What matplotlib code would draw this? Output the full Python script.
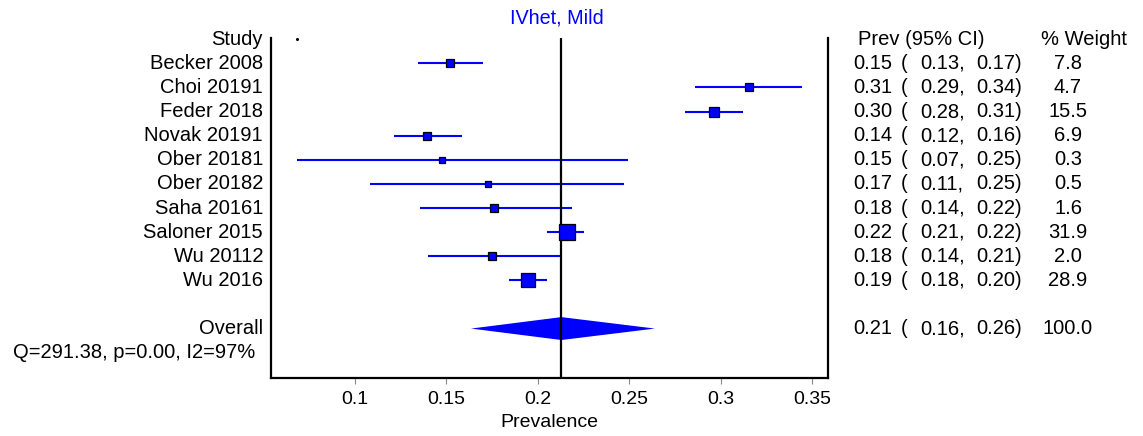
import numpy as np
import matplotlib
matplotlib.use("Agg")
import matplotlib.pyplot as plt
from matplotlib.transforms import blended_transform_factory

plt.rcParams["font.family"] = ["Liberation Sans", "DejaVu Sans"]

# ── Data ──
STUDIES = ["Becker 2008", "Choi 20191", "Feder 2018", "Novak 20191", "Ober 20181",
           "Ober 20182", "Saha 20161", "Saloner 2015", "Wu 20112", "Wu 2016"]
EST = [0.152, 0.3153, 0.2961, 0.1396, 0.1476, 0.1726, 0.1758, 0.2156, 0.1751, 0.1948]
LO = [0.1347, 0.2857, 0.2802, 0.1215, 0.0683, 0.1082, 0.1358, 0.2050, 0.1400, 0.1843]
HI = [0.1699, 0.3443, 0.3122, 0.1583, 0.2490, 0.2470, 0.2188, 0.2251, 0.2128, 0.2048]
WEIGHT = [7.8, 4.7, 15.5, 6.9, 0.3, 0.5, 1.6, 31.9, 2.0, 28.9]

# printed values (2 decimals)
PREV_TXT = [0.15, 0.31, 0.30, 0.14, 0.15, 0.17, 0.18, 0.22, 0.18, 0.19]
LO_TXT = [0.13, 0.29, 0.28, 0.12, 0.07, 0.11, 0.14, 0.21, 0.14, 0.18]
HI_TXT = [0.17, 0.34, 0.31, 0.16, 0.25, 0.25, 0.22, 0.22, 0.21, 0.20]

OVERALL_EST, OVERALL_LO, OVERALL_HI = 0.2128, 0.1634, 0.2639
OVERALL_TXT = (0.21, 0.16, 0.26, 100.0)
HET_TEXT = "Q=291.38, p=0.00, I2=97%"
TITLE = "IVhet, Mild"
XTICKS = [0.1, 0.15, 0.2, 0.25, 0.3, 0.35]
XTICK_LABELS = ["0.1", "0.15", "0.2", "0.25", "0.3", "0.35"]

W, H = 1143, 436
FS = 14.5
BLUE = "#0000ff"

fig = plt.figure(figsize=(W / 100, H / 100), dpi=100)
ax = fig.add_axes([271 / W, 1 - 378 / H, (828 - 271) / W, (378 - 38) / H])

rows = np.arange(1, len(STUDIES) + 1)
overall_row = len(STUDIES) + 2
het_row = overall_row + 1

# CI lines and weighted squares
for r, e, lo, hi, w in zip(rows, EST, LO, HI, WEIGHT):
    ax.plot([lo, hi], [r, r], color=BLUE, lw=1.5, solid_capstyle="butt", zorder=2)
    side_px = 6.8 + 0.26 * w
    ax.plot(e, r, marker="s", ms=side_px * 0.72, mfc=BLUE, mec="black", mew=0.9,
            linestyle="none", zorder=4)

# stray point on header row
ax.plot(min(LO), 0, marker="o", ms=1.2, color="black", linestyle="none")

# overall diamond
dh = 0.475
ax.fill([OVERALL_LO, OVERALL_EST, OVERALL_HI, OVERALL_EST],
        [overall_row, overall_row - dh, overall_row, overall_row + dh],
        color=BLUE, lw=0, zorder=3)

# reference line at overall estimate
ax.axvline(OVERALL_EST, color="black", lw=1.6, zorder=3)

ax.set_xlim(0.0541, 0.3585)
ax.set_ylim(14.05, -0.05)
ax.set_yticks([])
ax.set_xticks(XTICKS)
ax.set_xticklabels(XTICK_LABELS, fontsize=14)
ax.tick_params(axis="x", direction="out", length=4, width=0.8, color="#888888", pad=5)
ax.spines["top"].set_visible(False)
for s in ["left", "right", "bottom"]:
    ax.spines[s].set_linewidth(1.6)
ax.set_xlabel("Prevalence", fontsize=14, labelpad=5)

# left-hand labels
tr = blended_transform_factory(fig.transFigure, ax.transData)
fig.text(263 / W, 0, "Study", transform=tr, ha="right", va="center", fontsize=FS)
for r, name in zip(rows, STUDIES):
    fig.text(263 / W, r, name, transform=tr, ha="right", va="center", fontsize=FS)
fig.text(263 / W, overall_row, "Overall", transform=tr, ha="right", va="center", fontsize=FS)
fig.text(13 / W, het_row, HET_TEXT, transform=tr, ha="left", va="center", fontsize=FS)

# right-hand table
fig.text(858 / W, 0, "Prev (95% CI)", transform=tr, ha="left", va="center", fontsize=FS)
fig.text(1041 / W, 0, "% Weight", transform=tr, ha="left", va="center", fontsize=FS)


def table_row(r, p, lo, hi, w):
    fig.text(853 / W, r, f"{p:.2f}", transform=tr, ha="left", va="center", fontsize=FS)
    fig.text(901 / W, r, "(", transform=tr, ha="left", va="center", fontsize=FS)
    fig.text(920 / W, r, f"{lo:.2f},", transform=tr, ha="left", va="center", fontsize=FS)
    fig.text(976 / W, r, f"{hi:.2f})", transform=tr, ha="left", va="center", fontsize=FS)
    fig.text(1068 / W, r, f"{w:.1f}", transform=tr, ha="center", va="center", fontsize=FS)


for r, p, lo, hi, w in zip(rows, PREV_TXT, LO_TXT, HI_TXT, WEIGHT):
    table_row(r, p, lo, hi, w)
table_row(overall_row, *OVERALL_TXT)

fig.text(557 / W, 1 - 18 / H, TITLE, ha="center", va="center", fontsize=14.2, color=BLUE)

fig.savefig("out.png", dpi=100)
